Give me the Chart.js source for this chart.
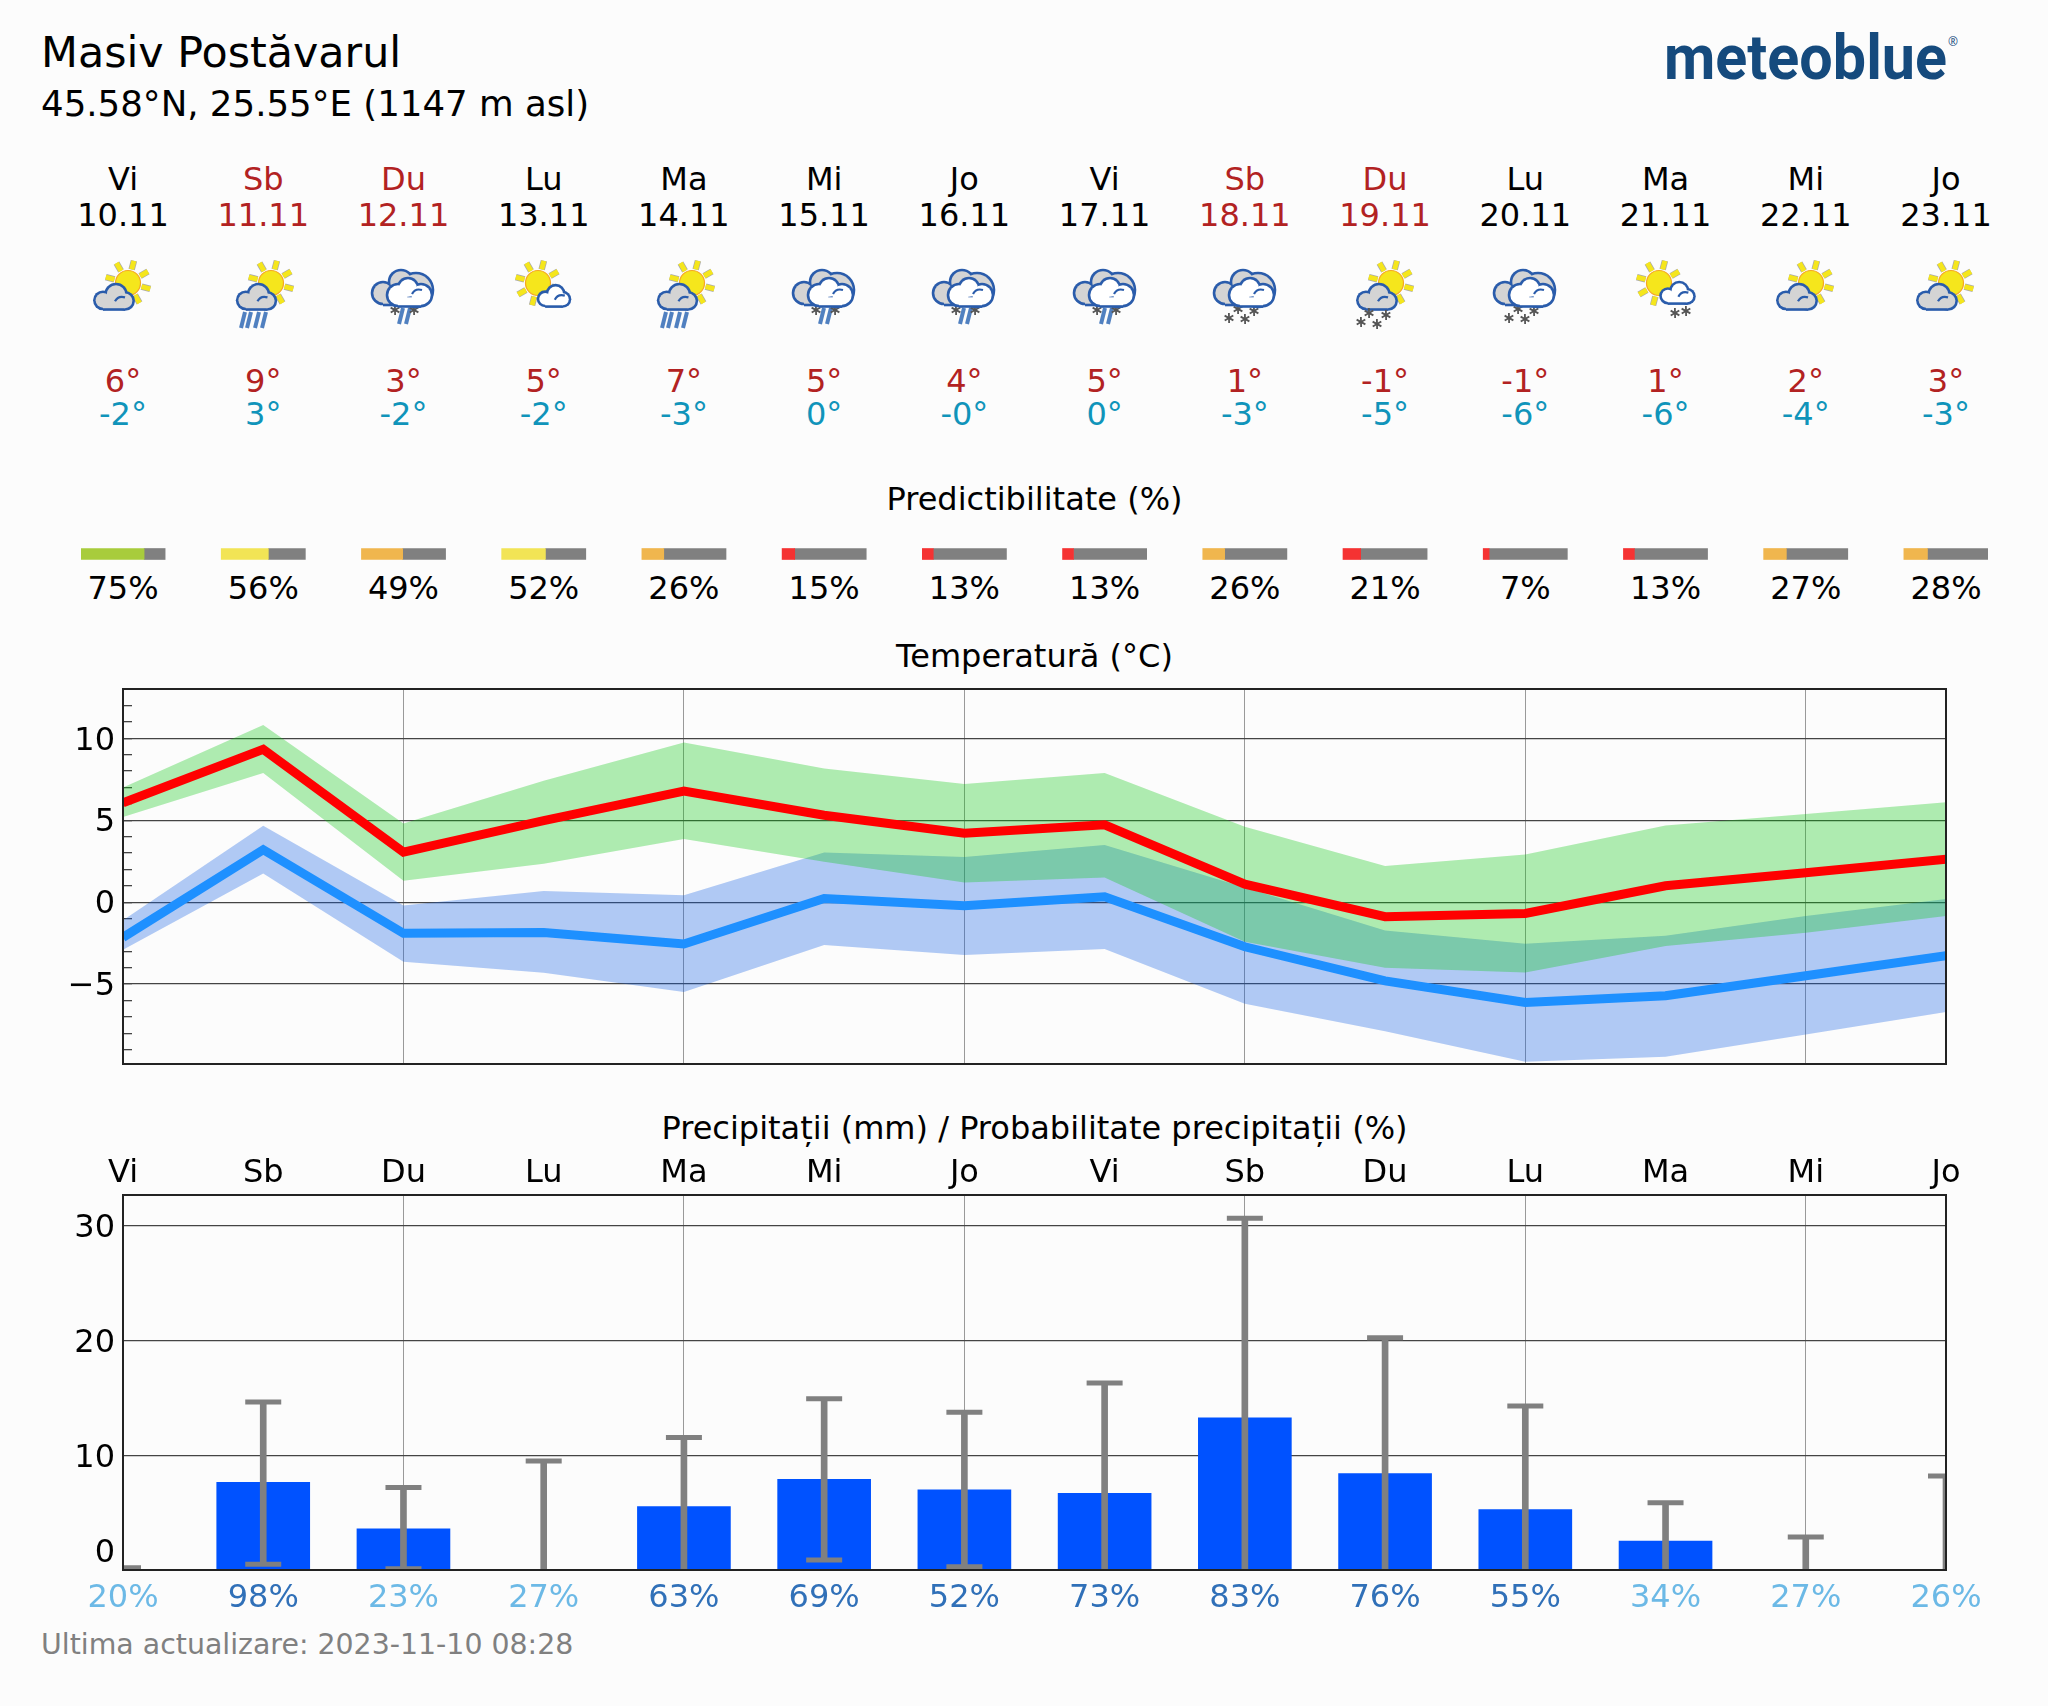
<!DOCTYPE html>
<html lang="ro">
<head>
<meta charset="utf-8">
<title>Masiv Postăvarul</title>
<script src="https://cdn.jsdelivr.net/npm/chart.js@4"></script>
<style>
    html, body { margin: 0; background: #fcfcfc; }
    #page { position: relative; width: 2048px; height: 1706px; overflow: hidden; background: #fcfcfc; font-family: "DejaVu Sans", sans-serif; color: #000; }
    #page canvas { position: absolute; left: 0; }
    .txt { position: absolute; white-space: nowrap; line-height: 1; }
    .icon { position: absolute; overflow: visible; }
</style>
</head>
<body>
<div id="page">
    <canvas id="predChart" width="2048" height="30" style="top:539px"></canvas>
    <canvas id="tempChart" width="2048" height="400" style="top:680px"></canvas>
    <canvas id="rainChart" width="2048" height="470" style="top:1150px"></canvas>
</div>
<script>
const dayNames = ['Vi', 'Sb', 'Du', 'Lu', 'Ma', 'Mi', 'Jo', 'Vi', 'Sb', 'Du', 'Lu', 'Ma', 'Mi', 'Jo'];
const dates = ['10.11', '11.11', '12.11', '13.11', '14.11', '15.11', '16.11', '17.11', '18.11', '19.11', '20.11', '21.11', '22.11', '23.11'];
const maxLabels = ['6°', '9°', '3°', '5°', '7°', '5°', '4°', '5°', '1°', '-1°', '-1°', '1°', '2°', '3°'];
const minLabels = ['-2°', '3°', '-2°', '-2°', '-3°', '0°', '-0°', '0°', '-3°', '-5°', '-6°', '-6°', '-4°', '-3°'];
const iconKinds = ['sunCloud', 'sunCloudRain', 'cloudsMix', 'sunSmall', 'sunCloudRain', 'cloudsMix', 'cloudsMix',
    'cloudsMix', 'cloudsSnow', 'sunCloudSnow', 'cloudsSnow', 'sunSmallSnow', 'sunCloud', 'sunCloud'];

const predictability = [75, 56, 49, 52, 26, 15, 13, 13, 26, 21, 7, 13, 27, 28];
const rainChance = [20, 98, 23, 27, 63, 69, 52, 73, 83, 76, 55, 34, 27, 26];

const tempMax = [6.06, 9.32, 3.05, 4.97, 6.78, 5.3, 4.2, 4.72, 1.1, -0.89, -0.69, 1.0, 1.79, 2.62];
const tempMaxHigh = [7.0, 10.8, 4.8, 7.4, 9.74, 8.15, 7.2, 7.87, 4.6, 2.2, 2.9, 4.67, 5.37, 6.1];
const tempMaxLow = [5.2, 7.88, 1.3, 2.35, 3.85, 2.46, 1.2, 1.5, -2.42, -4.0, -4.29, -2.68, -1.87, -0.85];
const tempMin = [-2.15, 3.2, -1.9, -1.85, -2.55, 0.22, -0.22, 0.33, -2.72, -4.8, -6.12, -5.71, -4.49, -3.27];
const tempMinHigh = [-1.1, 4.66, -0.2, 0.68, 0.42, 3.03, 2.76, 3.48, 0.9, -1.73, -2.54, -2.05, -0.85, 0.2];
const tempMinLow = [-2.9, 1.75, -3.64, -4.3, -5.48, -2.62, -3.23, -2.85, -6.2, -7.87, -9.74, -9.43, -8.07, -6.7];

const rainAmount = [0, 7.64, 3.6, 0, 5.54, 7.9, 7.0, 6.69, 13.26, 8.4, 5.26, 2.53, 0, 0];
const rainHigh = [0.2, 14.65, 7.2, 9.5, 11.55, 14.94, 13.75, 16.3, 30.67, 20.26, 14.3, 5.87, 2.88, 8.2];
const rainLow = [null, 0.5, 0.1, null, null, 0.87, 0.29, null, null, null, null, null, null, null];

const tempTicksMajor = 5;
const BG_FONT = '"DejaVu Sans", sans-serif';
const FONT_SIZE = 32;

Chart.defaults.font.family = BG_FONT;
Chart.defaults.font.size = FONT_SIZE;
Chart.defaults.color = '#000';
Chart.defaults.animation = false;
Chart.defaults.responsive = false;
Chart.defaults.devicePixelRatio = 1;
Chart.defaults.plugins.legend.display = false;
Chart.defaults.plugins.tooltip.enabled = false;

// black box round the plot, matplotlib style
const framePlugin = {
    id: 'frame',
    afterDraw(chart) {
        const { ctx, chartArea: a } = chart;
        ctx.save();
        ctx.strokeStyle = '#222';
        ctx.lineWidth = 2;
        ctx.strokeRect(a.left, a.top, a.right - a.left, a.bottom - a.top);
        ctx.restore();
    },
};

const everyOtherDay = (ctx) => (ctx.index > 0 && ctx.index < 13 && ctx.index % 2 === 0 ? '#999' : 'transparent');

// predictability strips: coloured part + grey rest, on a day-indexed axis
const predColor = (p) => {
    if (p >= 60) return '#a8cc3c';
    if (p >= 50) return '#f2e455';
    if (p >= 25) return '#f0b64e';
    return '#f53232';
};
const PRED_WIDTH = 0.6;

const predChart = new Chart(document.getElementById('predChart'), {
    type: 'bar',
    data: {
        labels: ['pred'],
        datasets: [
            {
                data: predictability.map((p, i) => ({ x: [i - PRED_WIDTH / 2, i - PRED_WIDTH / 2 + PRED_WIDTH * p / 100], y: 'pred' })),
                backgroundColor: predictability.map(predColor),
                barThickness: 11,
                grouped: false,
            },
            {
                data: predictability.map((p, i) => ({ x: [i - PRED_WIDTH / 2 + PRED_WIDTH * p / 100, i + PRED_WIDTH / 2], y: 'pred' })),
                backgroundColor: '#808080',
                barThickness: 11,
                grouped: false,
            },
        ],
    },
    options: {
        indexAxis: 'y',
        layout: { padding: { left: 81, right: 60 } },
        scales: {
            x: { type: 'linear', display: false, min: -0.3, max: 13.3 },
            y: { type: 'category', display: false },
        },
    },
});

const band = (data, color, fill) => ({
    data,
    borderWidth: 0,
    pointRadius: 0,
    backgroundColor: color,
    fill,
    order: color === GREEN_BAND ? 2 : 3,
    clip: 0,
});
const GREEN_BAND = 'rgba(10,200,15,0.32)';
const BLUE_BAND = 'rgba(14,92,227,0.32)';

const tempChart = new Chart(document.getElementById('tempChart'), {
    type: 'line',
    data: {
        labels: dayNames,
        datasets: [
            { data: tempMax, borderColor: '#ff0000', borderWidth: 9, pointRadius: 0, order: 0, clip: 0, fill: false, borderJoinStyle: 'miter' },
            { data: tempMin, borderColor: '#1e90ff', borderWidth: 9, pointRadius: 0, order: 1, clip: 0, fill: false, borderJoinStyle: 'miter' },
            band(tempMaxHigh, GREEN_BAND, '+1'),
            band(tempMaxLow, GREEN_BAND, false),
            band(tempMinHigh, BLUE_BAND, '+1'),
            band(tempMinLow, BLUE_BAND, false),
        ],
    },
    options: {
        layout: { padding: { top: 9, bottom: 16, right: 102 } },
        scales: {
            x: {
                offset: false,
                ticks: { display: false, autoSkip: false },
                grid: { color: everyOtherDay, drawTicks: false, lineWidth: 1 },
                border: { display: false },
                afterFit: (s) => { s.height = 0; },
            },
            y: {
                min: -9.87,
                max: 13,
                afterFit: (s) => {
                    s.width = 123;
                    s.paddingTop = 0;
                    s.paddingBottom = 0;
                },
                border: { display: false },
                grid: {
                    tickLength: -9,
                    tickColor: '#444',
                    tickWidth: 1.3,
                    lineWidth: 1.3,
                    color: (ctx) => (ctx.tick.value % tempTicksMajor === 0 ? '#444' : 'transparent'),
                },
                ticks: {
                    stepSize: 1,
                    includeBounds: false,
                    autoSkip: false,
                    padding: 17,
                    labelOffset: 3,
                    callback: (v) => (v % tempTicksMajor === 0 ? String(v).replace('-', '−') : ''),
                },
            },
        },
    },
    plugins: [framePlugin],
});

const rainChart = new Chart(document.getElementById('rainChart'), {
    type: 'bar',
    data: {
        labels: dayNames,
        datasets: [
            { type: 'line', data: rainHigh, showLine: false, pointStyle: 'line', pointRadius: 18, pointBorderWidth: 5, pointBorderColor: '#808080', order: 0, clip: 0 },
            { type: 'line', data: rainLow, showLine: false, pointStyle: 'line', pointRadius: 18, pointBorderWidth: 5, pointBorderColor: '#808080', order: 0, clip: 0, spanGaps: false },
            { data: rainHigh.map((h, i) => [rainLow[i] || 0, h]), backgroundColor: '#808080', barThickness: 6, grouped: false, order: 1 },
            { data: rainAmount, backgroundColor: '#0052ff', barThickness: 93, grouped: false, order: 2 },
        ],
    },
    options: {
        layout: { padding: { right: 102 } },
        scales: {
            x: {
                position: 'top',
                offset: false,
                ticks: { autoSkip: false, maxRotation: 0, padding: 2 },
                grid: { offset: false, color: everyOtherDay, drawTicks: false },
                border: { display: false },
                afterFit: (s) => { s.height = 45; },
            },
            x2: {
                type: 'category',
                labels: rainChance.map((p) => p + '%'),
                position: 'bottom',
                display: true,
                offset: false,
                ticks: {
                    autoSkip: false,
                    maxRotation: 0,
                    padding: 9,
                    color: (ctx) => (rainChance[ctx.index] >= 50 ? '#3070b8' : '#6cb9e6'),
                },
                grid: { display: false, drawTicks: false },
                border: { display: false },
                afterFit: (s) => { s.height = 50; },
            },
            y: {
                min: 0,
                max: 32.7,
                afterFit: (s) => {
                    s.width = 123;
                    s.paddingTop = 0;
                    s.paddingBottom = 0;
                },
                border: { display: false },
                grid: {
                    drawTicks: false,
                    lineWidth: 1.3,
                    color: (ctx) => (ctx.tick.value > 0 ? '#444' : 'transparent'),
                },
                ticks: {
                    stepSize: 10,
                    includeBounds: false,
                    padding: 8,
                    labelOffset: 3,
                    // the 0 sits above the axis in the original, an empty second line lifts it
                    callback: (v) => (v === 0 ? ['0', ''] : String(v)),
                },
            },
        },
    },
    plugins: [framePlugin],
});

// page text, positioned from the temperature chart's own x scale
const page = document.getElementById('page');
const dayX = (i) => tempChart.scales.x.getPixelForValue(i);

function addText(text, x, y, size, color, align) {
    const el = document.createElement('div');
    el.className = 'txt';
    el.textContent = text;
    el.style.left = x + 'px';
    el.style.top = y + 'px';
    el.style.fontSize = size + 'px';
    el.style.color = color || '#000';
    el.style.transform = align === 'left' ? 'translateY(-50%)' : 'translate(-50%,-50%)';
    page.appendChild(el);
}

addText('Masiv Postăvarul', 41, 52, 42.8, '#000', 'left');
addText('45.58°N, 25.55°E (1147 m asl)', 41, 104, 35.6, '#000', 'left');
addText('Predictibilitate (%)', dayX(6.5), 499, FONT_SIZE);
addText('Temperatură (°C)', dayX(6.5), 656, FONT_SIZE);
addText('Precipitații (mm) / Probabilitate precipitații (%)', dayX(6.5), 1128, FONT_SIZE);
addText('Ultima actualizare: 2023-11-10 08:28', 41, 1645, 28.4, '#808080', 'left');

dayNames.forEach((name, i) => {
    const headColor = name === 'Sb' || name === 'Du' ? '#b22222' : '#000';
    addText(name, dayX(i), 179, FONT_SIZE, headColor);
    addText(dates[i], dayX(i), 215, FONT_SIZE, headColor);
    addText(maxLabels[i], dayX(i), 381, FONT_SIZE, '#b22222');
    addText(minLabels[i], dayX(i), 414, FONT_SIZE, '#1094ba');
    addText(predictability[i] + '%', dayX(i), 588, FONT_SIZE);
});

// logo
page.insertAdjacentHTML('beforeend', `<svg class="icon" style="left:0;top:0" width="2048" height="120">
    <text x="1664" y="79" textLength="283" lengthAdjust="spacingAndGlyphs" font-family="Roboto" font-weight="700" font-size="63" fill="#154a7d">meteoblue</text>
    <text x="1948" y="46" font-family="Open Sans" font-size="12" fill="#154a7d">®</text>
</svg>`);

// weather icons
const OUTLINE = '#2a5cab';

// cloud = union of circles and a flat base; outline first, fill over it
function blob(circles, base, fill) {
    const shape = (extra, style) => circles.map(([x, y, r]) => `<circle cx="${x}" cy="${y}" r="${r + extra}" ${style}/>`).join('')
        + `<rect x="${base[0]}" y="${base[1] - extra}" width="${base[2]}" height="${base[3] + 2 * extra}" ${style}/>`;
    return shape(1.3, `fill="${OUTLINE}"`) + shape(-1.3, `fill="${fill}"`);
}

function curl(x, y) {
    return `<path d="M${x} ${y}q3 -6 10 -4" fill="none" stroke="${OUTLINE}" stroke-width="2.2"/>`;
}

function cloud(x, y, w, h, fill) {
    const sx = w / 40;
    const sy = h / 27;
    const c = [[9, 17, 9], [22, 11, 11], [31, 17.5, 9]].map(([cx, cy, r]) => [x + cx * sx, y + cy * sy, r * Math.min(sx, sy)]);
    return blob(c, [x + 9 * sx, y + 15 * sy, 22 * sx, 11.5 * sy], fill) + curl(x + 21 * sx, y + 18 * sy);
}

function sun(x, y) {
    let rays = '';
    for (let a = 15; a < 375; a += 45) {
        const r = a * Math.PI / 180;
        const line = `x1="${x + 14 * Math.cos(r)}" y1="${y + 14 * Math.sin(r)}" x2="${x + 23 * Math.cos(r)}" y2="${y + 23 * Math.sin(r)}"`;
        rays += `<line ${line} stroke="#aaa" stroke-width="6.5"/><line ${line} stroke="#f5e61c" stroke-width="5"/>`;
    }
    return rays + `<circle cx="${x}" cy="${y}" r="12.5" fill="#f5e61c" stroke="#f5a623" stroke-width="1.2"/>`;
}

function rain(xs, y1, y2) {
    return xs.map((x) => `<line x1="${x + 2}" y1="${y1}" x2="${x - 2}" y2="${y2}" stroke="#5080c0" stroke-width="4"/>`).join('');
}

function flake(x, y) {
    let s = '';
    for (let a = 0; a < 180; a += 60) {
        const r = a * Math.PI / 180 + 0.5;
        s += `<line x1="${x - 5 * Math.cos(r)}" y1="${y - 5 * Math.sin(r)}" x2="${x + 5 * Math.cos(r)}" y2="${y + 5 * Math.sin(r)}" stroke="#555" stroke-width="1.8"/>`;
    }
    return s;
}

const twoClouds = () => blob([[-20, 43, 11], [-2, 32, 12], [13, 40, 17]], [-20, 44, 33, 11], '#d4d4d4')
    + blob([[-5, 45, 11], [5, 38, 10], [18, 45, 11]], [-5, 46, 23, 10.5], '#fff')
    + curl(9, 44);

const iconShapes = {
    sunCloud: () => sun(5, 33) + cloud(-29, 34, 40, 26, '#d4d4d4'),
    sunCloudRain: () => sun(8, 33) + cloud(-26, 34, 39, 26, '#d4d4d4') + rain([-20, -14, -6, 1], 62, 78),
    cloudsMix: () => rain([-2, 5], 58, 74) + flake(-8, 60) + flake(11, 60) + twoClouds(),
    sunSmall: () => sun(-6, 33) + cloud(-6, 35, 32, 22, '#fff'),
    cloudsSnow: () => flake(-7, 59) + flake(9, 61) + flake(-16, 68) + flake(0, 69) + twoClouds(),
    sunCloudSnow: () => sun(6, 33) + cloud(-28, 34, 40, 26, '#d4d4d4') + flake(-16, 63) + flake(1, 65) + flake(-24, 72) + flake(-8, 74),
    sunSmallSnow: () => sun(-7, 33) + cloud(-6, 32, 35, 22, '#fff') + flake(9, 63) + flake(20, 61),
};

iconKinds.forEach((kind, i) => {
    const svg = `<svg class="icon" style="left:${dayX(i)}px;top:250px" width="1" height="1">${iconShapes[kind]()}</svg>`;
    page.insertAdjacentHTML('beforeend', svg);
});
</script>
</body>
</html>
